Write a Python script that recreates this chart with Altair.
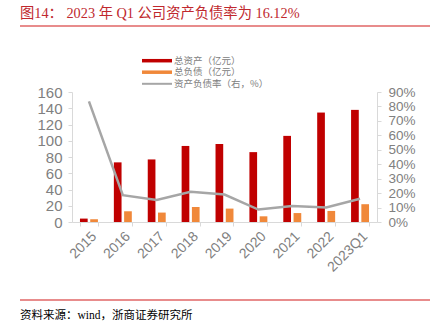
import altair as alt
import pandas as pd

categories = ["2015", "2016", "2017", "2018", "2019", "2020", "2021", "2022", "2023Q1"]
total_assets = [4.2, 73.4, 77.0, 93.6, 96.0, 86.0, 106.0, 134.7, 138.0]
total_liab = [3.4, 13.2, 11.6, 18.5, 16.5, 7.0, 11.0, 13.6, 21.9]
debt_ratio = [0.835, 0.186, 0.153, 0.209, 0.19, 0.086, 0.111, 0.10, 0.1612]
series_names = ["总资产（亿元）", "总负债（亿元）", "资产负债率（右，%）"]
colors = ["#c00000", "#f0883a", "#a6a6a6"]
left_ticks = [0, 20, 40, 60, 80, 100, 120, 140, 160]
right_ticks = [0, 0.1, 0.2, 0.3, 0.4, 0.5, 0.6, 0.7, 0.8, 0.9]
title_text = "图14：  2023 年 Q1 公司资产负债率为 16.12%"
source_text = "资料来源：wind，浙商证券研究所"

bars_df = pd.DataFrame({
    "cat": categories * 2,
    "series": [series_names[0]] * len(categories) + [series_names[1]] * len(categories),
    "value": total_assets + total_liab,
})
line_df = pd.DataFrame({"cat": categories, "series": series_names[2], "ratio": debt_ratio})

W, H = 305, 130
L, T = 72, 92
sans = "Liberation Sans Narrow, Liberation Sans, Arial"
cjk = "Noto Sans CJK SC"
serif = "Liberation Serif, Noto Sans CJK SC"

x_scale = alt.Scale(domain=categories, paddingInner=0.47, paddingOuter=0.235)
color_scale = alt.Scale(domain=series_names, range=colors)

bars = alt.Chart(bars_df).mark_bar().encode(
    x=alt.X("cat:N", scale=x_scale, sort=categories,
            axis=alt.Axis(title=None, labelAngle=-45, tickBand="extent",
                          labelFont=sans, labelFontSize=14, labelColor="#808080",
                          domainColor="#d9d9d9", tickColor="#d9d9d9", tickSize=4,
                          labelPadding=3)),
    xOffset=alt.XOffset("series:N", sort=series_names[:2],
                        scale=alt.Scale(domain=series_names[:2], paddingInner=0.25, paddingOuter=0)),
    y=alt.Y("value:Q", scale=alt.Scale(domain=[0, 160], nice=False),
            axis=alt.Axis(title=None, orient="left", values=left_ticks, grid=False,
                          labelFont=sans, labelFontSize=15, labelColor="#808080",
                          labelOverlap=False,
                          domainColor="#d9d9d9", tickColor="#d9d9d9", tickSize=4,
                          labelPadding=6)),
    color=alt.Color("series:N", scale=color_scale, legend=None),
)

line = alt.Chart(line_df).mark_line(strokeWidth=2.5).encode(
    x=alt.X("cat:N", scale=x_scale, sort=categories),
    y=alt.Y("ratio:Q", scale=alt.Scale(domain=[0, 0.9], nice=False),
            axis=alt.Axis(title=None, orient="right", values=right_ticks, format=".0%", grid=False,
                          labelFont=sans, labelFontSize=13.5, labelColor="#808080",
                          labelOverlap=False,
                          domainColor="#d9d9d9", tickColor="#d9d9d9", tickSize=4,
                          labelPadding=7)),
    color=alt.Color("series:N", scale=color_scale, legend=None),
)

# legend (drawn as decorations, pixel positions relative to the plot area)
legend_df = pd.DataFrame({
    "series": series_names,
    "ly": [60.7 - T, 72.2 - T, 83.8 - T],
    "lx1": [142 - L] * 3,
    "lx2": [172 - L] * 3,
    "tx": [174 - L] * 3,
    "sw": [3.5, 3.5, 2.0],
})
legend_lines = alt.Chart(legend_df).mark_rule().encode(
    x=alt.X("lx1:Q", scale=None), x2="lx2:Q",
    y=alt.Y("ly:Q", scale=None),
    color=alt.Color("series:N", scale=color_scale, legend=None),
    strokeWidth=alt.StrokeWidth("sw:Q", scale=None),
)
legend_text = alt.Chart(legend_df).mark_text(align="left", baseline="middle", font=cjk,
                                             fontSize=9.5, color="#808080").encode(
    x=alt.X("tx:Q", scale=None), y=alt.Y("ly:Q", scale=None), text="series:N")

one = pd.DataFrame({"t": [title_text], "s": [source_text]})
title = alt.Chart(one).mark_text(align="left", baseline="middle", font=serif,
                                 fontSize=14.3, color="#c0282e").encode(
    x=alt.value(20 - L), y=alt.value(14 - T), text="t:N")
top_rule = alt.Chart(one).mark_rule(color="#e06666", strokeWidth=1.5).encode(
    x=alt.value(20 - L), x2=alt.value(430 - L), y=alt.value(26 - T))
bottom_rule = alt.Chart(one).mark_rule(color="#e06666", strokeWidth=1.5).encode(
    x=alt.value(20 - L), x2=alt.value(430 - L), y=alt.value(300 - T))
source = alt.Chart(one).mark_text(align="left", baseline="middle", font=serif,
                                  fontSize=11.5, color="#000000").encode(
    x=alt.value(20 - L), y=alt.value(316 - T), text="s:N")

chart = alt.layer(bars, line, legend_lines, legend_text, title, top_rule, bottom_rule, source).resolve_scale(
    y="independent"
).properties(
    width=W, height=H,
    autosize=alt.AutoSizeParams(type="none"),
    padding={"left": L, "top": T, "right": 440 - L - W, "bottom": 332 - T - H},
    background="white",
).configure_view(stroke=None)

chart.save("out.html", embed_options={"renderer": "svg", "actions": False})
